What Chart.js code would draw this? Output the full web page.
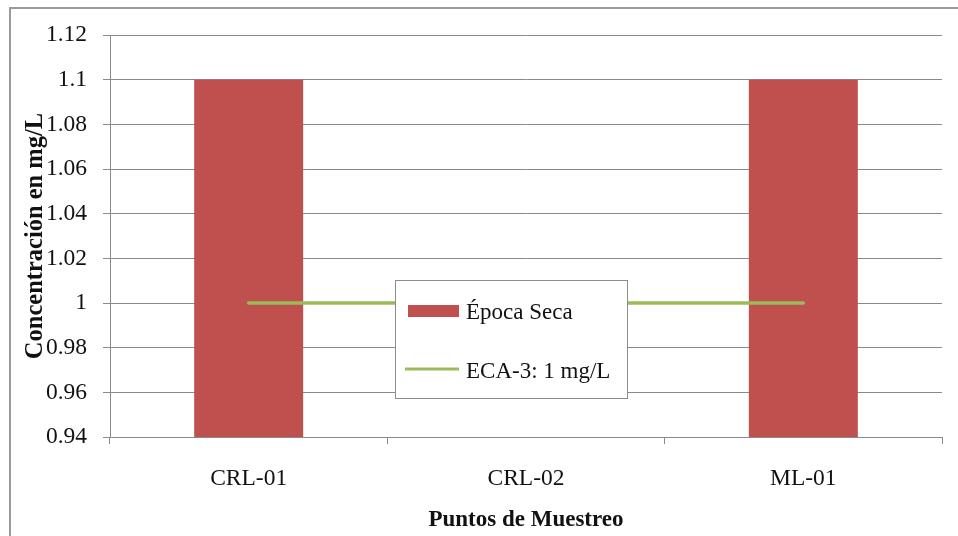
<!DOCTYPE html>
<html>
<head>
<meta charset="utf-8">
<script src="https://cdn.jsdelivr.net/npm/chart.js@4"></script>
<style>
html,body{margin:0;padding:0;background:#fff;}
#wrap{width:958px;height:536px;position:relative;}
</style>
</head>
<body>
<div id="wrap"><canvas id="c" width="958" height="536"></canvas></div>
<script>
const categories = ["CRL-01", "CRL-02", "ML-01"];
const epocaSeca = [1.1, null, 1.1];
const eca3 = [1, 1, 1];
const seriesLabels = ["Época Seca", "ECA-3: 1 mg/L"];
const yTicks = [0.94, 0.96, 0.98, 1, 1.02, 1.04, 1.06, 1.08, 1.1, 1.12];
const yTitle = "Concentración en mg/L";
const xTitle = "Puntos de Muestreo";

const SERIF = "'Liberation Serif', 'Times New Roman', serif";

const frame = {
  id: 'frame',
  beforeDraw(chart) {
    const ctx = chart.ctx;
    ctx.save();
    ctx.fillStyle = '#fff';
    ctx.fillRect(0, 0, chart.width, chart.height);
    ctx.strokeStyle = '#9a9a9a';
    ctx.lineWidth = 2;
    ctx.strokeRect(10, 8, chart.width + 10, chart.height + 10);
    ctx.restore();
  }
};

const boxLegend = {
  id: 'boxLegend',
  afterDraw(chart) {
    const ctx = chart.ctx;
    const ds = chart.data.datasets;
    ctx.save();
    ctx.fillStyle = '#fff';
    ctx.fillRect(395, 280, 232, 118);
    ctx.strokeStyle = '#8c8c8c';
    ctx.lineWidth = 1;
    ctx.strokeRect(395.5, 280.5, 232, 118);
    ctx.fillStyle = ds[0].backgroundColor;
    ctx.fillRect(408, 305, 51, 12);
    ctx.strokeStyle = ds[1].borderColor;
    ctx.lineWidth = 3;
    ctx.beginPath();
    ctx.moveTo(405, 369);
    ctx.lineTo(459, 369);
    ctx.stroke();
    ctx.fillStyle = '#111';
    ctx.font = "23px " + SERIF;
    ctx.textBaseline = 'middle';
    ctx.textAlign = 'left';
    ctx.fillText(ds[0].label, 466, 313);
    ctx.fillText(ds[1].label, 466, 372);
    ctx.restore();
  }
};

new Chart(document.getElementById('c'), {
  data: {
    labels: categories,
    datasets: [
      {
        type: 'bar',
        label: seriesLabels[0],
        data: epocaSeca,
        backgroundColor: '#C0504D',
        borderWidth: 0,
        barPercentage: 0.393,
        categoryPercentage: 1,
        order: 2
      },
      {
        type: 'line',
        label: seriesLabels[1],
        data: eca3,
        borderColor: '#9BBB59',
        backgroundColor: '#9BBB59',
        borderWidth: 3.5,
        pointRadius: 0,
        borderCapStyle: 'round',
        fill: false,
        order: 1
      }
    ]
  },
  options: {
    responsive: false,
    animation: false,
    devicePixelRatio: 1,
    layout: { padding: { left: 0, top: 35, right: 16, bottom: 0 } },
    plugins: {
      legend: { display: false },
      tooltip: { enabled: false }
    },
    scales: {
      x: {
        offset: true,
        grid: { offset: true, drawOnChartArea: false, tickLength: 7, color: '#8a8a8a' },
        border: { color: '#8a8a8a' },
        ticks: { color: '#111', font: { family: SERIF, size: 23.5 }, padding: 21, maxRotation: 0 },
        title: { display: true, text: xTitle, color: '#111', font: { family: SERIF, size: 23, weight: 'bold' }, padding: { top: 0, bottom: 2 } },
        afterFit(scale) { scale.height = 99; }
      },
      y: {
        min: 0.94,
        max: 1.12,
        afterBuildTicks(scale) { scale.ticks = yTicks.map(v => ({ value: v })); },
        grid: { color: '#8a8a8a', tickLength: 7 },
        border: { color: '#8a8a8a' },
        ticks: {
          color: '#111',
          font: { family: SERIF, size: 23.5 },
          padding: 16,
          callback: v => String(Math.round(v * 100) / 100)
        },
        title: { display: true, text: yTitle, color: '#111', font: { family: SERIF, size: 24.5, weight: 'bold' }, padding: { top: 21, bottom: 0 } },
        afterFit(scale) { scale.width = 110; }
      }
    }
  },
  plugins: [frame, boxLegend]
});
</script>
</body>
</html>
